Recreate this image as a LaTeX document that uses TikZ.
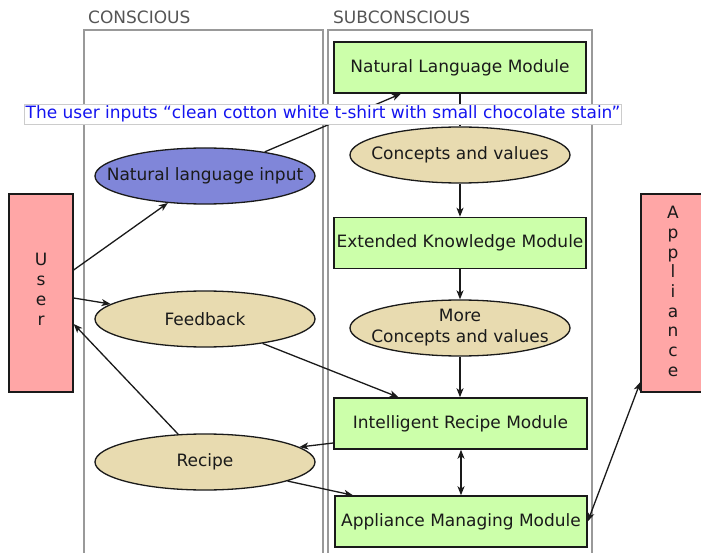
\documentclass[tikz,border=0pt]{standalone}
\usepackage{fontspec}
\setmainfont{DejaVu Sans}
\usetikzlibrary{arrows.meta,shapes.geometric}
\definecolor{modgreen}{RGB}{204,255,170}
\definecolor{conctan}{RGB}{232,219,176}
\definecolor{inblue}{RGB}{128,134,217}
\definecolor{actpink}{RGB}{255,166,166}
\definecolor{framegray}{RGB}{153,153,153}
\definecolor{headgray}{RGB}{85,85,85}
\definecolor{notebl}{RGB}{20,20,240}
\definecolor{ink}{RGB}{26,26,26}
\tikzset{
  every node/.style={font=\fontsize{17}{20}\selectfont, text=ink},
  module/.style={draw=ink, line width=1.5pt, fill=modgreen, rectangle,
    minimum width=252, minimum height=51, inner sep=0},
  concept/.style={draw=ink, line width=1.3pt, fill=conctan, ellipse,
    minimum width=220, minimum height=56, inner sep=0},
  ctext/.style={align=center, inner sep=0, font=\fontsize{17}{21}\selectfont},
  actor/.style={draw=ink, line width=1.3pt, fill=actpink, rectangle,
    minimum width=64, minimum height=198, inner sep=0},
  frame/.style={draw=framegray, line width=1.5pt},
  header/.style={text=headgray, anchor=west, inner sep=0},
  arr/.style={draw=ink, line width=1.3pt, -{Stealth[length=9pt,width=7pt,inset=2.5pt]}},
  dblarr/.style={draw=ink, line width=1.3pt, {Stealth[length=9pt,width=7pt,inset=2.5pt]}-{Stealth[length=9pt,width=7pt,inset=2.5pt]}},
  plain/.style={draw=ink, line width=1.3pt}
}
\begin{document}
\begin{tikzpicture}[x=1pt,y=-1pt]
\clip (0,0) rectangle (701,553);
\fill[white] (0,0) rectangle (701,553);

% awareness regions
\draw[frame] (84,30) rectangle (323,570);
\draw[frame] (328,30) rectangle (592,570);
\node[header] (hcon) at (88,17) {CONSCIOUS};
\node[header] (hsub) at (333,17) {SUBCONSCIOUS};

% actors, their names set one letter per line
\node[actor, label={[ctext, yshift=3.5pt, font=\fontsize{17}{20}\selectfont]center:U\\s\\e\\r}] (user) at (41,293) {};
\node[actor, label={[ctext, yshift=1.5pt, font=\fontsize{17}{19.7}\selectfont]center:A\\p\\p\\l\\i\\a\\n\\c\\e}] (app) at (673,293) {};

% conscious side
\node[concept, fill=inblue, label={[ctext]center:Natural language input}] (nli) at (205,176) {};
\node[concept, label={[ctext]center:Feedback}] (fb) at (205,319) {};
\node[concept, label={[ctext]center:Recipe}] (rec) at (205,462) {};

% subconscious side
\node[module] (nlm) at (460,67.5) {Natural Language Module};
\node[concept, label={[ctext]center:Concepts and values}] (cv) at (460,155) {};
\node[module] (ekm) at (460,243) {Extended Knowledge Module};
\node[concept, label={[ctext]center:More\\Concepts and values}] (more) at (460,328) {};
\node[module, minimum width=253] (irm) at (460.5,423.5) {Intelligent Recipe Module};
\node[module] (amm) at (461,521.5) {Appliance Managing Module};

% flows
\draw[arr] (nli.22.5) -- ([xshift=-59pt]nlm.south);
\draw[plain] (nlm.south) -- (cv.north);
\draw[arr] (cv.south) -- (ekm.north);
\draw[arr] (ekm.south) -- (more.north);
\draw[arr] (more.south) -- (irm.north -| more.south);
\draw[dblarr] (irm.south -| amm.north) -- (amm.north);
\draw[arr] ([yshift=23pt]user.east) -- (nli.216);
\draw[arr] ([yshift=-5pt]user.east) -- (fb.171);
\draw[arr] (rec.134) -- ([yshift=-31pt]user.east);
\draw[arr] (fb.337.5) -- ([xshift=-62pt]irm.north);
\draw[arr] ([yshift=-19.5pt]irm.west) -- (rec.9);
\draw[arr] (rec.347) -- ([xshift=-108pt]amm.north);
\draw[dblarr] (amm.east) -- ([yshift=-89pt]app.west);

% user note
\node[draw=black!20, line width=0.8pt, fill=white, text=notebl,
      inner xsep=1.5pt, inner ysep=1pt, minimum height=20] (note) at (323,114)
  {The user inputs “clean cotton white t-shirt with small chocolate stain”};
\end{tikzpicture}
\end{document}
